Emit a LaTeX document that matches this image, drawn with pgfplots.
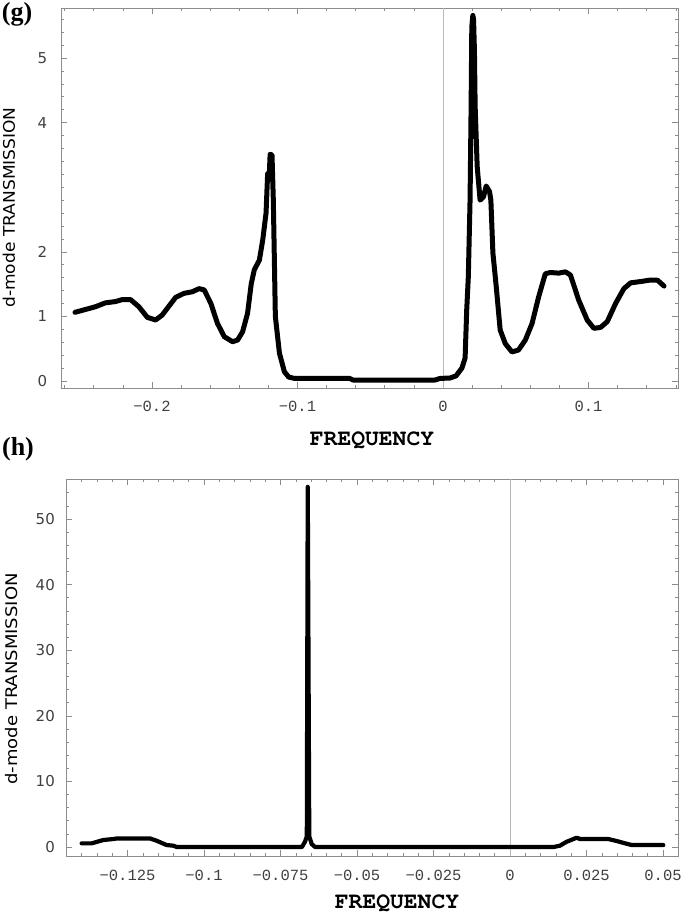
\documentclass[border=0pt]{standalone}
\usepackage{fontspec}
\usepackage{graphicx}
\usepackage{pgfplots}
\pgfplotsset{compat=1.18}
\setmainfont{DejaVu Sans}
\newfontfamily\monofont{Liberation Mono}
\newfontfamily\courfont{TeX Gyre Cursor}
\newfontfamily\seriffont{Liberation Serif}

\definecolor{framegray}{gray}{0.55}
\definecolor{ticktext}{gray}{0.25}

\pgfplotstableread{
x y
-0.2529 1.063
-0.2388 1.15
-0.2320 1.21
-0.2250 1.23
-0.2205 1.26
-0.2147 1.26
-0.2090 1.15
-0.2032 0.986
-0.1975 0.944
-0.1930 1.02
-0.1883 1.16
-0.1837 1.295
-0.1780 1.357
-0.1722 1.382
-0.1676 1.43
-0.1641 1.41
-0.1595 1.20
-0.1550 0.893
-0.1503 0.686
-0.1446 0.608
-0.1411 0.635
-0.1377 0.763
-0.1343 1.048
-0.1318 1.50
-0.1297 1.72
-0.1262 1.87
-0.1239 2.18
-0.1216 2.60
-0.1205 3.21
-0.1195 3.12
-0.1188 3.51
-0.1175 3.50
-0.1166 2.80
-0.1152 1.00
-0.1124 0.43
-0.1090 0.144
-0.1060 0.06
-0.1020 0.04
-0.0641 0.04
-0.0619 0.015
-0.0055 0.015
-0.0020 0.04
0.0048 0.046
0.0090 0.08
0.0130 0.20
0.0152 0.356
0.0163 1.10
0.0174 1.61
0.0186 2.80
0.0193 4.20
0.0198 5.48
0.0205 5.66
0.0210 5.60
0.0216 5.12
0.0221 4.25
0.0235 3.32
0.0255 2.80
0.0278 2.85
0.0297 3.02
0.0320 2.93
0.0329 2.80
0.0343 1.98
0.0366 1.46
0.0393 0.79
0.0428 0.58
0.0474 0.45
0.0519 0.48
0.0566 0.635
0.0612 0.89
0.0657 1.30
0.0703 1.66
0.0738 1.68
0.0795 1.67
0.0841 1.69
0.0876 1.64
0.0933 1.25
0.0991 0.944
0.1037 0.816
0.1083 0.83
0.1129 0.92
0.1186 1.20
0.1243 1.43
0.1290 1.52
0.1359 1.54
0.1416 1.56
0.1474 1.56
0.1519 1.47
}\gtable

\pgfplotstableread{
x y
-0.1400 0.56
-0.1367 0.56
-0.1329 1.07
-0.1296 1.22
-0.1285 1.30
-0.1176 1.30
-0.1155 0.96
-0.1122 0.30
-0.1100 0.20
-0.1089 0.0
-0.0680 0.0
-0.0670 0.8
-0.0664 1.6
-0.0661 54.9
-0.0656 1.6
-0.0648 0.45
-0.0637 0.0
0.0142 0.0
0.0163 0.2
0.0185 0.8
0.0218 1.42
0.0229 1.22
0.0321 1.22
0.0349 0.91
0.0376 0.56
0.0398 0.30
0.0501 0.30
}\htable

\pgfplotsset{
  dmode/.style={
    scale only axis,
    anchor=south west,
    axis line style={framegray, line width=0.8bp},
    tick style={framegray, line width=0.6bp},
    major tick length=6bp, minor tick length=3bp,
    tick align=inside,
    xticklabel style={font=\monofont\fontsize{15.5bp}{16bp}\selectfont,
      text=ticktext, anchor=north, inner sep=0pt},
    yticklabel style={font=\fontsize{15bp}{16bp}\selectfont,
      text=ticktext, anchor=east, inner sep=0pt},
  },
}

\begin{document}
\begin{tikzpicture}
\useasboundingbox (0,0) rectangle (685bp,-917bp);

% panel (g)
\begin{axis}[dmode,
  at={(61.3bp,-388.3bp)}, width=616.7bp, height=380bp,
  xmin=-0.2623, xmax=0.1615, ymin=-0.113, ymax=5.77,
  xtick={-0.2,-0.1,0,0.1},
  xticklabels={−0.2,−0.1,0,0.1},
  minor xtick={-0.26,-0.24,...,0.16},
  ytick={0,1,2,4,5},
  yticklabels={0,1,2,4,5},
  minor ytick={0,0.2,...,5.6},
  xticklabel style={yshift=-13bp},
  yticklabel style={xshift=-14bp},
]
\draw[gray!55, line width=0.8bp] ({axis cs:0,0}|-{rel axis cs:0,0}) -- ({axis cs:0,0}|-{rel axis cs:0,1});
\addplot[black, line width=5bp, line join=round, line cap=round] table {\gtable};
\end{axis}

% panel (h)
\begin{axis}[dmode,
  at={(66bp,-856bp)}, width=612bp, height=376.7bp,
  xmin=-0.1451, xmax=0.0549, ymin=-1.37, ymax=56.05,
  xtick={-0.125,-0.1,-0.075,-0.05,-0.025,0,0.025,0.05},
  xticklabels={−0.125,−0.1,−0.075,−0.05,−0.025,0,0.025,0.05},
  minor xtick={-0.14,-0.135,...,0.05},
  ytick={0,10,20,30,40,50},
  yticklabels={0,10,20,30,40,50},
  minor ytick={0,2,...,56},
  xticklabel style={yshift=-13.5bp},
  yticklabel style={xshift=-11bp},
]
\draw[gray!55, line width=0.8bp] ({axis cs:0,0}|-{rel axis cs:0,0}) -- ({axis cs:0,0}|-{rel axis cs:0,1});
\addplot[black, line width=4.2bp, line join=round, line cap=round] table {\htable};
\end{axis}

% labels
\node[font=\seriffont\bfseries\fontsize{26bp}{28bp}\selectfont] at (17bp,-14bp) {(g)};
\node[font=\seriffont\bfseries\fontsize{26bp}{28bp}\selectfont] at (18bp,-449bp) {(h)};
\node[font=\courfont\bfseries\fontsize{23bp}{24bp}\selectfont] at (372bp,-440bp) {FREQUENCY};
\node[font=\courfont\bfseries\fontsize{23bp}{24bp}\selectfont] at (397bp,-903bp) {FREQUENCY};
\node[rotate=90, font=\fontsize{16bp}{18bp}\selectfont, inner sep=0pt] at (9bp,-207.5bp) {\scalebox{1.066}[1]{d-mode TRANSMISSION}};
\node[rotate=90, font=\fontsize{16bp}{18bp}\selectfont, inner sep=0pt] at (12bp,-679bp) {\scalebox{1.125}[1]{d-mode TRANSMISSION}};
\end{tikzpicture}
\end{document}
